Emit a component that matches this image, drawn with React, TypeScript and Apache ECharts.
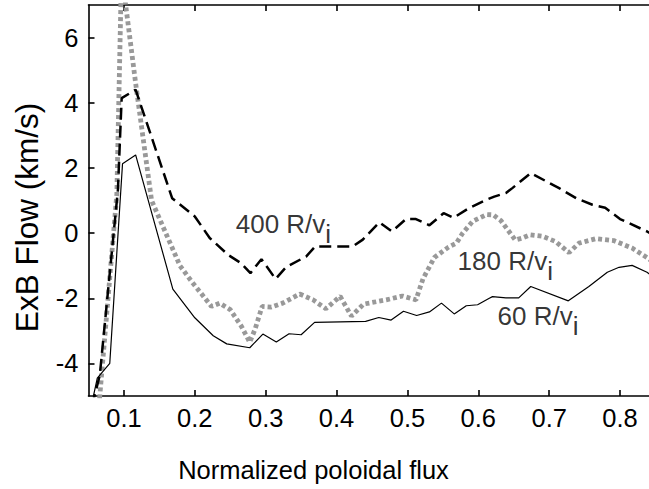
import React, { useEffect, useRef } from "react";
import * as echarts from "echarts";

// 400 R/v_i (black dashed)
const flow400: [number, number][] = [
  [0.055, -5.3], [0.066, -4.35], [0.0915, 1.33], [0.0968, 4.14], [0.1165, 4.4],
  [0.168, 1.07], [0.2, 0.51], [0.221, -0.15], [0.247, -0.67], [0.265, -0.92],
  [0.2785, -1.23], [0.294, -0.8], [0.314, -1.41], [0.329, -1.04], [0.357, -0.72],
  [0.37, -0.41], [0.423, -0.41], [0.437, -0.2], [0.4605, 0.33], [0.478, 0.05],
  [0.498, 0.43], [0.512, 0.43], [0.531, 0.24], [0.551, 0.61], [0.565, 0.47],
  [0.587, 0.77], [0.611, 1.02], [0.6225, 1.12], [0.639, 1.23], [0.648, 1.38],
  [0.674, 1.84], [0.714, 1.38], [0.738, 1.07], [0.761, 0.87], [0.779, 0.78],
  [0.8, 0.43], [0.838, 0.05], [0.85, -0.1],
];

// 180 R/v_i (grey dotted)
const flow180: [number, number][] = [
  [0.064, -5.5], [0.09, 1.2], [0.0966, 8.0], [0.1165, 4.6], [0.139, 1.0],
  [0.179, -1.0], [0.196, -1.5], [0.2235, -2.25], [0.235, -2.15], [0.25, -2.35],
  [0.266, -2.87], [0.2775, -3.35], [0.285, -2.95], [0.295, -2.25], [0.308, -2.27],
  [0.324, -2.15], [0.348, -1.87], [0.367, -2.05], [0.385, -2.32], [0.405, -1.94],
  [0.421, -2.55], [0.438, -2.18], [0.47, -2.05], [0.493, -1.93], [0.512, -2.05],
  [0.522, -1.4], [0.538, -0.75], [0.558, -0.43], [0.569, -0.31], [0.578, 0.0],
  [0.592, 0.36], [0.612, 0.57], [0.621, 0.56], [0.632, 0.38], [0.652, -0.21],
  [0.661, -0.16], [0.673, -0.05], [0.691, -0.1], [0.709, -0.26], [0.728, -0.6],
  [0.742, -0.31], [0.766, -0.17], [0.791, -0.23], [0.817, -0.46], [0.838, -0.75],
  [0.85, -0.95],
];

// 60 R/v_i (black solid)
const flow60: [number, number][] = [
  [0.054, -5.3], [0.0624, -4.45], [0.08, -4.0], [0.098, 2.13], [0.1165, 2.4],
  [0.169, -1.72], [0.2, -2.6], [0.226, -3.15], [0.245, -3.4], [0.2775, -3.52],
  [0.296, -3.1], [0.315, -3.34], [0.333, -3.09], [0.35, -3.12], [0.369, -2.74],
  [0.441, -2.71], [0.4596, -2.59], [0.477, -2.67], [0.4944, -2.4], [0.513, -2.53],
  [0.531, -2.42], [0.548, -2.15], [0.566, -2.48], [0.583, -2.23], [0.599, -2.2],
  [0.6155, -2.0], [0.62, -1.95], [0.639, -1.99], [0.657, -1.99], [0.674, -1.64],
  [0.727, -2.08], [0.756, -1.64], [0.782, -1.2], [0.7986, -1.05], [0.817, -0.99],
  [0.838, -1.2], [0.85, -1.4],
];

const xTicks = [0.1, 0.2, 0.3, 0.4, 0.5, 0.6, 0.7, 0.8];
const yTicks = [-4, -2, 0, 2, 4, 6];

const curveNames = ["400", "180", "60"];
const curveLabelX = [0.2577, 0.5708, 0.6272];
const curveLabelY = [0.285, -0.85, -2.54];

const FF = "'Liberation Sans', Arial, Helvetica, sans-serif";

export default function App() {
  const ref = useRef<HTMLDivElement>(null);
  useEffect(() => {
    if (!ref.current) return;
    const chart = echarts.init(ref.current, undefined, { renderer: "svg" });
    const axisLineStyle = { color: "#000", width: 1.6 };
    chart.setOption({
      animation: false,
      backgroundColor: "#fff",
      grid: { left: 88.5, top: 5, right: -6.5, bottom: 93, containLabel: false, outerBoundsMode: "none" },
      xAxis: [
        {
          type: "value",
          position: "bottom",
          min: 0.05,
          max: 0.85,
          interval: 0.05,
          axisLine: { onZero: false, lineStyle: axisLineStyle },
          axisTick: { inside: true, length: 6, customValues: xTicks, lineStyle: axisLineStyle },
          axisLabel: {
            customValues: xTicks,
            fontSize: 25.5,
            fontFamily: FF,
            color: "#000",
            margin: 9,
            formatter: (v: number) => v.toFixed(1),
          },
          splitLine: { show: false },
        },
        {
          type: "value",
          position: "top",
          min: 0.05,
          max: 0.85,
          interval: 0.05,
          axisLine: { onZero: false, lineStyle: axisLineStyle },
          axisTick: { inside: true, length: 6, customValues: xTicks, lineStyle: axisLineStyle },
          axisLabel: { show: false },
          splitLine: { show: false },
        },
      ],
      yAxis: {
        type: "value",
        min: -5,
        max: 7,
        interval: 1,
        axisLine: { onZero: false, lineStyle: axisLineStyle },
        axisTick: { inside: true, length: 6, customValues: yTicks, lineStyle: axisLineStyle },
        axisLabel: {
          customValues: yTicks,
          fontSize: 25.5,
          fontFamily: FF,
          color: "#000",
          margin: 10,
        },
        splitLine: { show: false },
      },
      graphic: [
        {
          type: "text",
          x: 313.5,
          y: 470,
          style: {
            text: "Normalized poloidal flux",
            fontSize: 25.5,
            fontFamily: FF,
            fill: "#000",
            textAlign: "center",
            textVerticalAlign: "middle",
            align: "center",
            verticalAlign: "middle",
          },
        },
        {
          type: "text",
          x: 27,
          y: 217.5,
          rotation: Math.PI / 2,
          style: {
            text: "ExB Flow (km/s)",
            fontSize: 31.5,
            fontFamily: FF,
            fill: "#000",
            textAlign: "center",
            textVerticalAlign: "middle",
            align: "center",
            verticalAlign: "middle",
          },
        },
      ],
      series: [
        {
          name: "180 R/vi",
          type: "line",
          data: flow180,
          symbol: "none",
          lineStyle: { color: "#999", width: 4.8, type: [4, 3], cap: "butt" },
          z: 2,
        },
        {
          name: "400 R/vi",
          type: "line",
          data: flow400,
          symbol: "none",
          lineStyle: { color: "#000", width: 2.5, type: [12, 6], cap: "butt" },
          z: 3,
        },
        {
          name: "60 R/vi",
          type: "line",
          data: flow60,
          symbol: "none",
          lineStyle: { color: "#000", width: 1.2 },
          z: 4,
        },
        {
          name: "labels",
          type: "scatter",
          symbolSize: 0,
          silent: true,
          itemStyle: { color: "transparent" },
          data: curveNames.map((n, i) => ({ name: n, value: [curveLabelX[i], curveLabelY[i]] })),
          label: {
            show: true,
            position: "right",
            distance: 0,
            formatter: (p: any) => `{a|${p.name} R/v}{b|i}`,
            rich: {
              a: { fontSize: 26, lineHeight: 28, fontFamily: FF, color: "#000" },
              b: { fontSize: 26, lineHeight: 28, fontFamily: FF, color: "#000", padding: [20, 0, 0, 0] },
            },
          },
          z: 5,
        },
      ],
    });
    return () => chart.dispose();
  }, []);
  return (
    <div
      ref={ref}
      style={{ position: "absolute", left: 0, top: 0, width: 649, height: 489, background: "#fff" }}
    />
  );
}
